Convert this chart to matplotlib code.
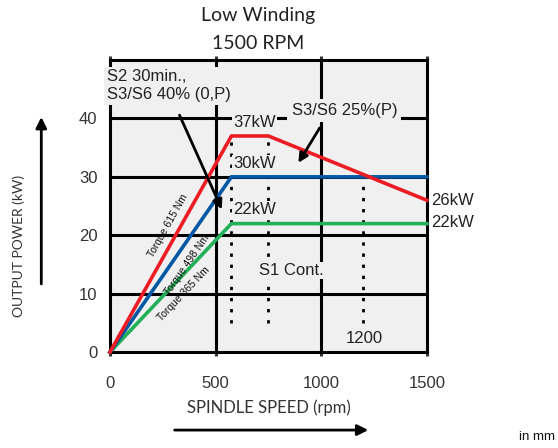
import numpy as np
import matplotlib
matplotlib.use("Agg")
import matplotlib.pyplot as plt

plt.rcParams['font.family'] = ['Liberation Sans', 'DejaVu Sans']

# power curves (speed rpm, power kW)
red_speed = [0, 575, 750, 1500]
red_power = [0, 37, 37, 26]
blue_speed = [0, 575, 1500]
blue_power = [0, 30, 30]
green_speed = [0, 575, 1500]
green_power = [0, 22, 22]

# dotted markers (speed, top power)
marker_speed = [575, 750, 1200]
marker_top = [37, 37, 30]

torque_labels = ["Torque 615 Nm", "Torque 498 Nm", "Torque 365 Nm"]
x_ticks = [0, 500, 1000, 1500]
y_ticks = [0, 10, 20, 30, 40]

RED = '#ec1c24'
BLUE = '#0057a3'
GREEN = '#22b15a'
BG = '#f0f0f0'

fig = plt.figure(figsize=(5.58, 4.48), dpi=100)
ax = fig.add_axes([0.197, 0.214, 0.568, 0.652])
ax.set_facecolor(BG)
ax.set_xlim(0, 1500)
ax.set_ylim(0, 50)

# grid
for x in [500, 1000]:
    ax.axvline(x, color='black', lw=2.2, zorder=1)
for y in [10, 20, 30, 40]:
    ax.axhline(y, color='black', lw=2.2, zorder=1)
for s in ax.spines.values():
    s.set_linewidth(2.2)

ax.set_xticks(x_ticks)
ax.set_yticks(y_ticks)
ax.tick_params(axis='x', length=0, pad=14, labelsize=12, colors='#333333')
ax.tick_params(axis='y', length=0, pad=9, labelsize=12, colors='#333333')
ax.tick_params(axis='x', top=True, labeltop=False, direction='out', length=3, width=2.2)

# dotted lines
for xs, top in zip(marker_speed, marker_top):
    ax.plot([xs, xs], [5, top], color='black', lw=2, ls=(0, (1.2, 2.8)), zorder=2)

# power curves
ax.plot(green_speed, green_power, color=GREEN, lw=2.6, zorder=4, clip_on=False)
ax.plot(blue_speed, blue_power, color=BLUE, lw=2.6, zorder=4, clip_on=False)
ax.plot(red_speed, red_power, color=RED, lw=2.6, zorder=5, clip_on=False)

box = dict(facecolor=BG, edgecolor='none', pad=1)
ax.text(585, 39.3, "37kW", fontsize=12, va='center', ha='left', color='#222222', bbox=box, zorder=6)
ax.text(585, 32.3, "30kW", fontsize=12, va='center', ha='left', color='#222222', bbox=box, zorder=6)
ax.text(585, 24.4, "22kW", fontsize=12, va='center', ha='left', color='#222222', bbox=box, zorder=6)
ax.text(860, 14.0, "S1 Cont.", fontsize=12, va='center', ha='center', color='#222222', bbox=box, zorder=6)
ax.text(1205, 2.3, "1200", fontsize=12, va='center', ha='center', color='#222222', zorder=6)
ax.text(1520, 25.9, "26kW", fontsize=12, va='center', ha='left', color='#222222', clip_on=False)
ax.text(1520, 22.2, "22kW", fontsize=12, va='center', ha='left', color='#222222', clip_on=False)

# torque labels along the ramp lines
fig.canvas.draw()
ramps = [(red_power[1], 275, 21.6), (blue_power[1], 365, 15.0), (green_power[1], 350, 10.0)]
for label, (p, lx, ly) in zip(torque_labels, ramps):
    p0 = ax.transData.transform((0, 0))
    p1 = ax.transData.transform((575, p))
    ang = np.degrees(np.arctan2(p1[1] - p0[1], p1[0] - p0[0]))
    ax.text(lx, ly, label, fontsize=7.5, rotation=ang, rotation_mode='anchor',
            ha='center', va='center', color='#111111', zorder=6)

# annotations
ax.text(-14, 48.4, "S2 30min.,\nS3/S6 40% (0,P)", fontsize=12, ha='left', va='top',
        color='#222222', linespacing=1.25, clip_on=False, zorder=7,
        bbox=dict(facecolor=BG, edgecolor='none', pad=2))
ax.annotate("", xy=(535, 24.0), xytext=(324, 41.0),
            arrowprops=dict(arrowstyle='-|>', color='black', lw=2, mutation_scale=14), zorder=7)
ax.text(1110, 41.4, "S3/S6 25%(P)", fontsize=12, ha='center', va='center', color='#222222',
        bbox=dict(facecolor=BG, edgecolor='none', pad=3), zorder=7)
ax.annotate("", xy=(885, 32.0), xytext=(1000, 38.8),
            arrowprops=dict(arrowstyle='-|>', color='black', lw=2, mutation_scale=14), zorder=7)

# title and axis labels
fig.text(0.462, 0.965, "Low Winding", fontsize=14, ha='center', va='center', family='Lato', color='#222222')
fig.text(0.462, 0.903, "1500 RPM", fontsize=14, ha='center', va='center', family='Lato', color='#222222')
fig.text(0.033, 0.45, "OUTPUT POWER (kW)", rotation=90, fontsize=10, ha='center', va='center',
         family='Lato', color='#333333')
fig.text(0.482, 0.09, "SPINDLE SPEED (rpm)", fontsize=12, ha='center', va='center',
         family='Lato', color='#333333')
fig.text(0.995, 0.025, "in mm", fontsize=9.5, ha='right', va='center', color='#111111')

fig.patches.append(matplotlib.patches.FancyArrowPatch((0.074, 0.36), (0.074, 0.745), transform=fig.transFigure,
                   arrowstyle='-|>', mutation_scale=16, lw=2, color='black'))
fig.patches.append(matplotlib.patches.FancyArrowPatch((0.308, 0.04), (0.665, 0.04), transform=fig.transFigure,
                   arrowstyle='-|>', mutation_scale=16, lw=2, color='black'))

fig.savefig("out.png", dpi=100)
